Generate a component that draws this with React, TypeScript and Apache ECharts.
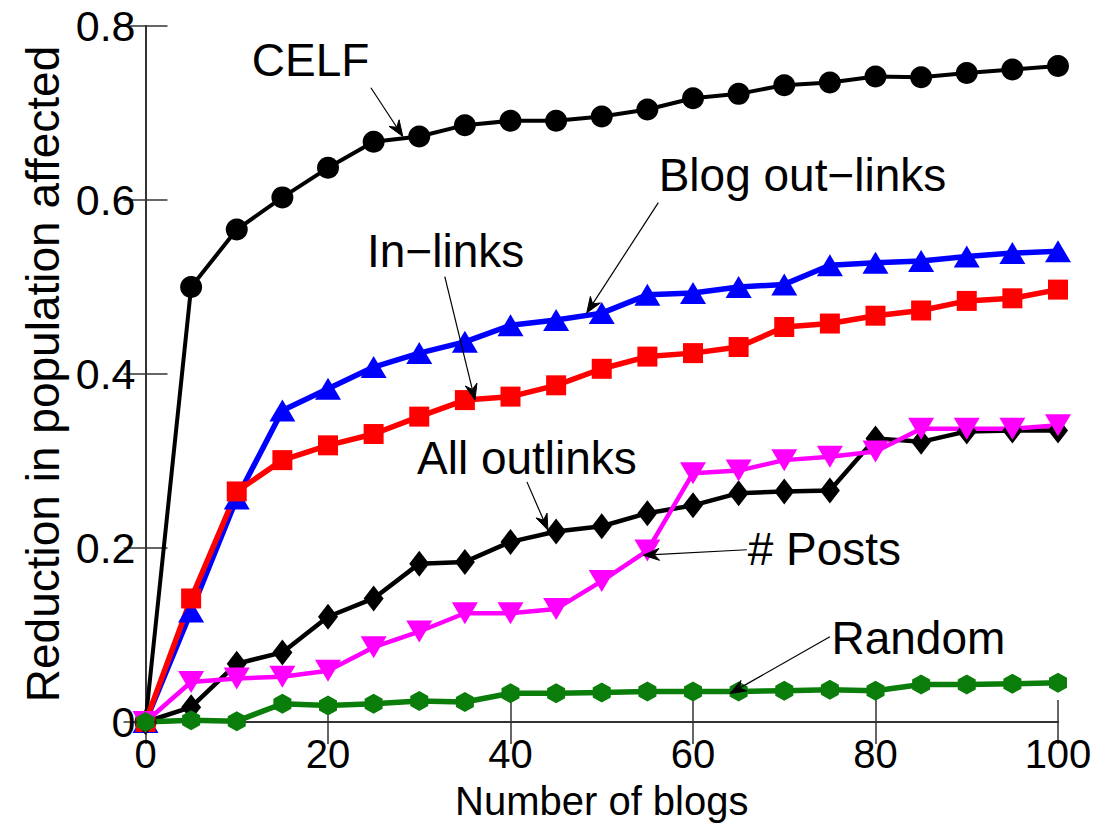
import React, { useEffect, useRef } from "react";
import * as echarts from "echarts";

const blogs = [0, 5, 10, 15, 20, 25, 30, 35, 40, 45, 50, 55, 60, 65, 70, 75, 80, 85, 90, 95, 100];
const celf = [0, 0.5, 0.566, 0.603, 0.637, 0.667, 0.673, 0.686, 0.691, 0.691, 0.696, 0.704, 0.717, 0.722, 0.732, 0.735, 0.742, 0.741, 0.746, 0.75, 0.754];
const blogOutLinks = [0, 0.127, 0.257, 0.358, 0.383, 0.408, 0.424, 0.437, 0.456, 0.462, 0.47, 0.491, 0.493, 0.5, 0.503, 0.525, 0.528, 0.53, 0.535, 0.539, 0.541];
const inLinks = [0, 0.142, 0.265, 0.301, 0.318, 0.331, 0.351, 0.37, 0.374, 0.387, 0.406, 0.42, 0.424, 0.431, 0.454, 0.458, 0.467, 0.473, 0.484, 0.487, 0.497];
const allOutlinks = [0, 0.017, 0.067, 0.08, 0.121, 0.142, 0.182, 0.184, 0.207, 0.219, 0.225, 0.24, 0.249, 0.263, 0.265, 0.266, 0.326, 0.322, 0.334, 0.335, 0.335];
const posts = [0, 0.046, 0.05, 0.052, 0.059, 0.086, 0.104, 0.125, 0.125, 0.13, 0.162, 0.197, 0.286, 0.289, 0.301, 0.305, 0.311, 0.337, 0.337, 0.337, 0.341];
const random = [0, 0.002, 0.001, 0.021, 0.019, 0.021, 0.024, 0.023, 0.033, 0.033, 0.034, 0.035, 0.035, 0.035, 0.036, 0.037, 0.036, 0.043, 0.043, 0.044, 0.045];

const xTicks = [0, 20, 40, 60, 80, 100];
const yTicks = [0, 0.2, 0.4, 0.6, 0.8];

// annotations (data coordinates)
const annoText = ["CELF", "Blog out\u2212links", "In\u2212links", "All outlinks", "# Posts", "Random"];
const annoLabelPos = [[18.1, 0.761], [72.0, 0.629], [32.9, 0.541], [41.8, 0.304], [74.4, 0.199], [84.7, 0.096]];
const annoTail = [[24.7, 0.729], [56.2, 0.597], [32.8, 0.512], [41.8, 0.276], [65.9, 0.198], [75.0, 0.098]];
const annoTip = [[28.2, 0.673], [48.35, 0.47], [36.1, 0.37], [44.1, 0.2205], [54.55, 0.1917], [64.05, 0.0327]];

const FONT = '"Liberation Sans", Arial, Helvetica, sans-serif';
const FS = 46;
const TICK_FS = 40;

const pairs = (ys: number[]) => blogs.map((x, i) => [x, ys[i]]);

export default function App() {
  const ref = useRef<HTMLDivElement>(null);
  useEffect(() => {
    if (!ref.current) return;
    const chart = echarts.init(ref.current, null, { renderer: "svg" });
    const axisLine = { show: true, lineStyle: { color: "#333", width: 2 } };
    const tick = { show: true, inside: true, length: 22, lineStyle: { color: "#333", width: 1.5 } };
    const hexPath = "path://M0,-10 L8.66,-5 L8.66,5 L0,10 L-8.66,5 L-8.66,-5 Z";
    const mkSeries = (name: string, ys: number[], color: string, width: number, symbol: string, size: any, rotate = 0) => ({
      type: "line",
      name,
      data: pairs(ys),
      symbol,
      symbolSize: size,
      symbolRotate: rotate,
      showSymbol: true,
      showAllSymbol: true,
      lineStyle: { color, width },
      itemStyle: { color, borderWidth: 0 },
      emphasis: { disabled: true },
    });
    chart.setOption({
      animation: false,
      backgroundColor: "#fff",
      grid: { left: 145.5, right: 41, top: 26, bottom: 106, containLabel: false, outerBoundsMode: "none" },
      xAxis: [
        {
          type: "value", min: 0, max: 100, interval: 20, position: "bottom",
          axisLine, axisTick: tick, splitLine: { show: false },
          axisLabel: {
            fontSize: TICK_FS, lineHeight: 34, fontFamily: FONT, color: "#000", margin: 15,
            formatter: (v: number) => (xTicks.includes(v) ? String(v) : ""),
          },
          name: "Number of blogs", nameLocation: "middle", nameGap: 62, nameMoveOverlap: false,
          nameTextStyle: { fontSize: 40, lineHeight: 34, fontFamily: FONT, color: "#000" },
        },
        {
          type: "value", min: 0, max: 100, interval: 20, position: "top",
          axisLine, axisTick: tick, splitLine: { show: false }, axisLabel: { show: false },
        },
      ],
      yAxis: [
        {
          type: "value", min: 0, max: 0.8, interval: 0.2, position: "left",
          axisLine, axisTick: tick, splitLine: { show: false },
          axisLabel: {
            fontSize: 43, fontFamily: FONT, color: "#000", margin: 10,
            formatter: (v: number) => {
              const t = yTicks.find((k) => Math.abs(k - v) < 1e-9);
              return t === undefined ? "" : t === 0 ? "0" : t.toFixed(1);
            },
          },
          name: "Reduction in population affected", nameLocation: "middle", nameGap: 80, nameRotate: 90, nameMoveOverlap: false,
          nameTextStyle: { fontSize: FS, fontFamily: FONT, color: "#000" },
        },
        {
          type: "value", min: 0, max: 0.8, interval: 0.2, position: "right",
          axisLine, axisTick: tick, splitLine: { show: false }, axisLabel: { show: false },
        },
      ],
      series: [
        mkSeries("CELF", celf, "#000000", 4, "circle", 22),
        mkSeries("Blog out-links", blogOutLinks, "#0000ff", 5.5, "triangle", [26, 22]),
        mkSeries("In-links", inLinks, "#ff0000", 5.5, "rect", [20, 20]),
        mkSeries("All outlinks", allOutlinks, "#000000", 4.5, "diamond", [20, 26]),
        mkSeries("# Posts", posts, "#ff00ff", 4.5, "triangle", [26, 22], 180),
        mkSeries("Random", random, "#0a7d0a", 5.5, hexPath, [18, 20]),
      ],
    });

    const graphics: any[] = [];
    const toPx = (p: number[]) => chart.convertToPixel({ xAxisIndex: 0, yAxisIndex: 0 }, p) as number[];
    annoText.forEach((txt, i) => {
      const lp = toPx(annoLabelPos[i]);
      const tail = toPx(annoTail[i]);
      const tip = toPx(annoTip[i]);
      const dx = tip[0] - tail[0];
      const dy = tip[1] - tail[1];
      const len = Math.hypot(dx, dy);
      const ux = dx / len, uy = dy / len;
      const nx = -uy, ny = ux;
      const L = 16, W = 6, N = 5;
      const back = [tip[0] - (L - N) * ux, tip[1] - (L - N) * uy];
      graphics.push({
        type: "line", silent: true, z: 100,
        shape: { x1: tail[0], y1: tail[1], x2: back[0], y2: back[1] },
        style: { stroke: "#000", lineWidth: 1.2 },
      });
      graphics.push({
        type: "polygon", silent: true, z: 100,
        shape: {
          points: [
            tip,
            [tip[0] - L * ux + W * nx, tip[1] - L * uy + W * ny],
            back,
            [tip[0] - L * ux - W * nx, tip[1] - L * uy - W * ny],
          ],
        },
        style: { fill: "#000", stroke: "#000", lineWidth: 1 },
      });
      graphics.push({
        type: "text", silent: true, z: 100, x: lp[0], y: lp[1],
        style: { text: txt, fontSize: FS, fontFamily: FONT, fill: "#000", align: "center", verticalAlign: "middle" },
      });
    });
    chart.setOption({ graphic: graphics });

    return () => chart.dispose();
  }, []);
  return <div ref={ref} style={{ position: "absolute", left: 0, top: 0, width: 1099, height: 828 }} />;
}
